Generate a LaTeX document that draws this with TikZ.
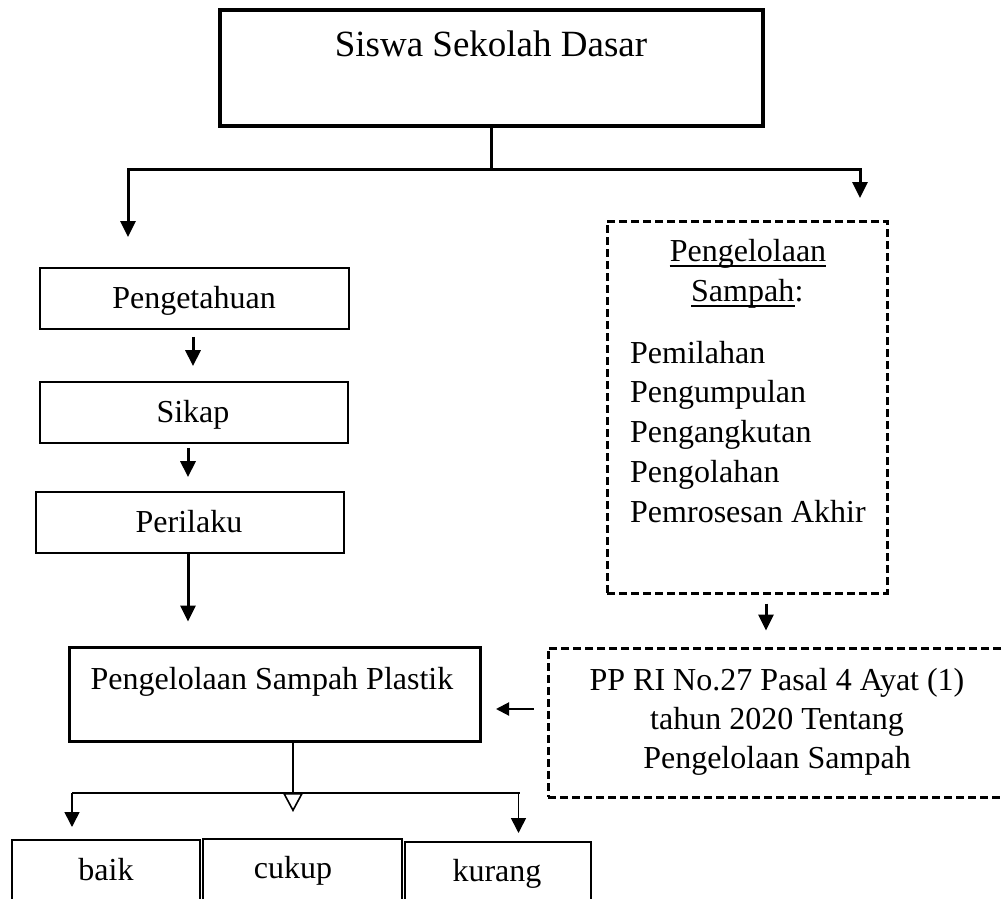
\documentclass[tikz,border=0pt]{standalone}
\usepackage{fontspec}
\setmainfont{Liberation Serif}
\usetikzlibrary{arrows.meta}
\tikzset{
  box/.style={draw, rectangle, inner sep=0pt, line width=1.7pt},
  thickbox/.style={box, line width=3.3pt},
  dbox/.style={draw, rectangle, inner sep=0pt, line width=3pt, dash pattern=on 8pt off 4pt},
  txt/.style={inner sep=0pt, anchor=base, font=\fontsize{32}{39.5}\selectfont},
  bigtxt/.style={inner sep=0pt, anchor=base, font=\fontsize{37}{44}\selectfont},
  arr/.style={line width=3pt, -{Triangle[length=16pt,width=15pt]}},
  tarr/.style={line width=1.6pt, -{Triangle[length=15pt,width=15pt]}},
  midarr/.style={line width=2pt, -{Triangle[length=13pt,width=13pt]}},
  openarr/.style={line width=1.6pt, -{Triangle[open,fill=white,length=19pt,width=20pt]}},
  uline/.style={line width=1.5pt}
}
\begin{document}
\begin{tikzpicture}[x=1pt,y=-1pt]
\clip (0,0) rectangle (1002,899);
\fill[white] (0,0) rectangle (1002,899);

% top box
\node[thickbox, line width=3.5pt, minimum width=543pt, minimum height=116pt] (top) at (491.5,68) {};
\node[bigtxt] (toptxt) at (491,57) {Siswa Sekolah Dasar};

% branch
\coordinate (jm) at (491.5,169);
\coordinate (al) at (128,237);
\coordinate (ar) at (860,198);
\draw[line width=3pt] (top.south) -- (jm);
\draw[arr] (jm) -| (al);
\draw[arr] (jm) -| (ar);

% left chain
\node[box, minimum width=309pt, minimum height=61pt] (peng) at (194.5,298.5) {};
\node[txt] (pengtxt) at (194,308) {Pengetahuan};
\node[box, minimum width=308pt, minimum height=61pt] (sikap) at (194,412.5) {};
\node[txt] (sikaptxt) at (193,422) {Sikap};
\node[box, minimum width=308pt, minimum height=61pt] (peri) at (190,522.5) {};
\node[txt] (peritxt) at (189,532) {Perilaku};

\draw[arr] ([xshift=-1.5pt,yshift=-7pt]peng.south) -- ([xshift=-1pt,yshift=15pt]sikap.north);
\draw[arr] ([xshift=-6pt,yshift=-4pt]sikap.south) -- ([xshift=-2pt,yshift=14pt]peri.north);

% plastik box
\node[thickbox, line width=3pt, minimum width=411pt, minimum height=94pt] (plas) at (274.5,694) {};
\node[txt] (plastxt) at (272,689) {Pengelolaan Sampah Plastik};
\draw[arr, shorten >=24pt] ([xshift=-2pt]peri.south) -- ([xshift=-2pt]peri.south |- plas.north);

% right dashed box
\node[dbox, minimum width=280pt, minimum height=372pt] (rbox) at (747,407) {};
\node[txt] (r1) at (748,261) {Pengelolaan};
\node[txt, anchor=base west] (r2) at (691,301) {Sampah};
\node[txt, anchor=base west] (r2c) at (r2.base east) {:};
\draw[uline] ([yshift=-5pt]r1.base west) -- ([yshift=-5pt]r1.base east);
\draw[uline] ([yshift=-5pt]r2.base west) -- ([yshift=-5pt]r2.base east);
\node[txt, anchor=base west] (l1) at (630,363) {Pemilahan};
\node[txt, anchor=base west] (l2) at (630,402) {Pengumpulan};
\node[txt, anchor=base west] (l3) at (630,442) {Pengangkutan};
\node[txt, anchor=base west] (l4) at (630,482) {Pengolahan};
\node[txt, anchor=base west] (l5) at (630,522) {Pemrosesan Akhir};

% PP box
\node[dbox, minimum width=464pt, minimum height=149pt] (pp) at (780,722.5) {};
\node[txt] (p1) at (777,690) {PP RI No.27 Pasal 4 Ayat (1)};
\node[txt] (p2) at (777,729) {tahun 2020 Tentang};
\node[txt] (p3) at (777,768) {Pengelolaan Sampah};

\draw[arr] ([xshift=19pt,yshift=-9pt]rbox.south) -- ([xshift=-14pt,yshift=16pt]pp.north);
\draw[midarr] ([xshift=-13pt,yshift=13.5pt]pp.west) -- ([xshift=14.5pt,yshift=-15pt]plas.east);

% bottom branch
\coordinate (hl) at (72,793);
\coordinate (hr) at (520,793);
\coordinate (ab) at (72,827);
\coordinate (ak0) at (518.5,793);
\coordinate (ak) at (518.5,833);
\coordinate (ac) at (293,812);
\draw[line width=1.6pt] (hl) -- (hr);
\draw[tarr] (hl) -- (ab);
\draw[tarr] (ak0) -- (ak);
\draw[openarr] ([xshift=18.5pt]plas.south) -- (ac);

% bottom boxes
\node[box, minimum width=188pt, minimum height=90pt] (baik) at (106,885) {};
\node[box, line width=2.3pt, minimum width=199pt, minimum height=91pt] (cukup) at (302.5,884.5) {};
\node[box, line width=2.3pt, minimum width=186pt, minimum height=88pt] (kurang) at (498,886) {};
\node[txt] (baiktxt) at (106,880) {baik};
\node[txt] (cukuptxt) at (293,878) {cukup};
\node[txt] (kurangtxt) at (497,881) {kurang};
\end{tikzpicture}
\end{document}
